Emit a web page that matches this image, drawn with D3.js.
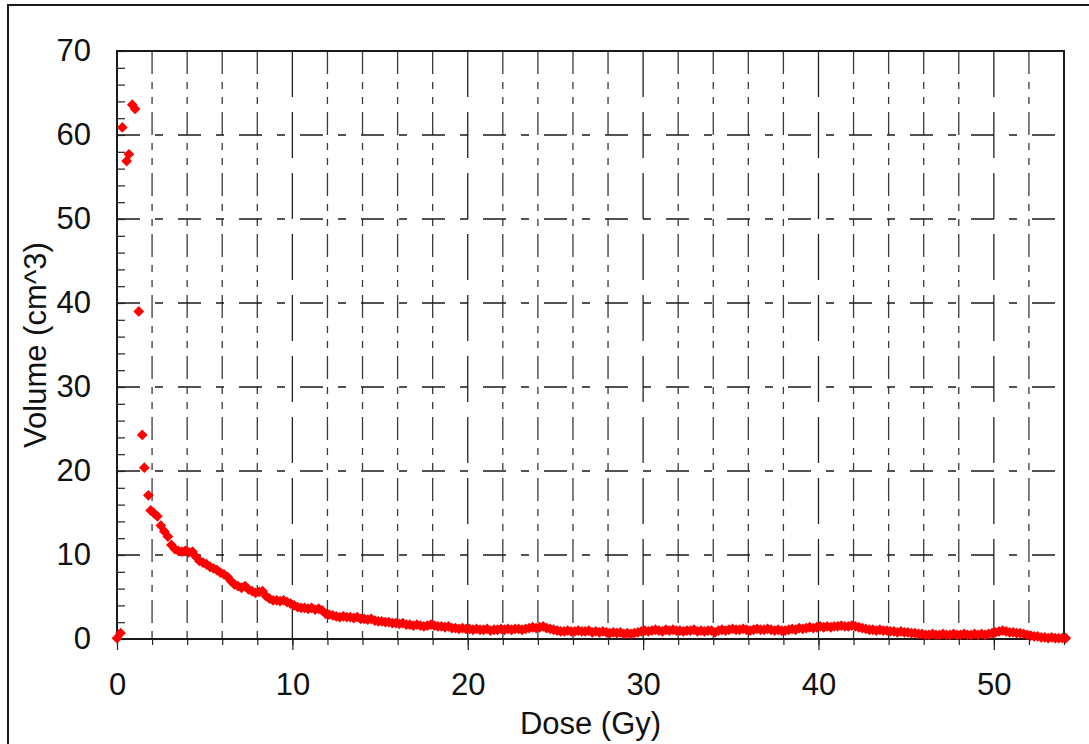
<!DOCTYPE html>
<html>
<head>
<meta charset="utf-8">
<script src="https://cdnjs.cloudflare.com/ajax/libs/d3/7.8.5/d3.min.js"></script>
<style>
  body { margin: 0; background: #fff; }
  svg text { font-family: "Liberation Sans", Arial, sans-serif; fill: #111; }
</style>
</head>
<body>
<div id="chart"></div>
<script>
/* DVH scatter: volume vs dose */
var width = 1089;
var height = 744;

// first few bins, read one by one
var headDose = [0.0, 0.2, 0.3, 0.55, 0.68, 0.87, 1.03, 1.24, 1.44, 1.56, 1.79, 1.92];
var headVolume = [0.1, 0.7, 60.9, 56.9, 57.7, 63.6, 63.1, 39.0, 24.3, 20.4, 17.1, 15.3];

// remaining bins, 0.2 Gy wide starting at 2.1 Gy
var tailStart = 2.1;
var binWidth = 0.2;
var tailVolume = [
  15.0, 14.6, 13.5, 12.8, 12.2, 11.2, 10.7, 10.5, 10.4, 10.5,
  10.3, 10.4, 9.8, 9.3, 9.1, 8.9, 8.6, 8.4, 8.2, 7.9,
  7.7, 7.4, 6.9, 6.5, 6.3, 6.1, 6.3, 5.9, 5.7, 5.5,
  5.6, 5.7, 5.1, 4.8, 4.6, 4.6, 4.5, 4.6, 4.4, 4.2,
  4.0, 3.8, 3.7, 3.7, 3.6, 3.7, 3.5, 3.6, 3.4, 3.0,
  2.9, 2.8, 2.7, 2.6, 2.7, 2.6, 2.6, 2.5, 2.6, 2.4,
  2.4, 2.3, 2.4, 2.2, 2.1, 2.1, 2.0, 2.0, 1.9, 1.9,
  1.8, 1.9, 1.7, 1.7, 1.6, 1.7, 1.6, 1.5, 1.6, 1.7,
  1.6, 1.5, 1.5, 1.4, 1.5, 1.3, 1.3, 1.2, 1.3, 1.2,
  1.2, 1.1, 1.2, 1.1, 1.1, 1.2, 1.0, 1.1, 1.1, 1.2,
  1.1, 1.2, 1.1, 1.2, 1.2, 1.1, 1.2, 1.3, 1.4, 1.3,
  1.4, 1.5, 1.3, 1.2, 1.1, 1.0, 0.9, 0.9, 1.0, 0.9,
  0.9, 1.0, 0.9, 0.9, 1.0, 0.8, 0.9, 0.8, 0.9, 0.8,
  0.7, 0.8, 0.7, 0.8, 0.6, 0.7, 0.6, 0.7, 0.8, 0.9,
  1.0, 0.9, 1.0, 1.1, 1.0, 0.9, 1.1, 1.0, 1.1, 1.0,
  1.0, 0.9, 1.0, 1.0, 1.1, 0.9, 1.0, 0.9, 1.0, 1.0,
  0.8, 1.0, 1.1, 1.0, 1.1, 1.2, 1.1, 1.1, 1.2, 1.1,
  1.0, 1.1, 1.2, 1.1, 1.1, 1.2, 1.1, 1.0, 1.1, 1.0,
  1.0, 1.1, 1.2, 1.1, 1.3, 1.2, 1.3, 1.4, 1.3, 1.4,
  1.5, 1.4, 1.5, 1.4, 1.5, 1.5, 1.6, 1.5, 1.5, 1.6,
  1.5, 1.4, 1.3, 1.2, 1.1, 1.1, 1.0, 1.1, 1.0, 1.0,
  0.9, 0.9, 0.8, 0.9, 0.8, 0.8, 0.7, 0.7, 0.6, 0.6,
  0.5, 0.5, 0.6, 0.5, 0.5, 0.6, 0.5, 0.5, 0.6, 0.5,
  0.5, 0.6, 0.5, 0.5, 0.6, 0.5, 0.6, 0.5, 0.6, 0.7,
  0.8, 0.9, 1.0, 0.9, 0.8, 0.8, 0.7, 0.7, 0.6, 0.5,
  0.4, 0.3, 0.3, 0.2, 0.2, 0.1, 0.2, 0.1, 0.1, 0.1,
  0.1
];

var xTicks = [0, 10, 20, 30, 40, 50];
var yTicks = [0, 10, 20, 30, 40, 50, 60, 70];

var points = headDose.map(function (d, i) { return { dose: d, vol: headVolume[i] }; });
tailVolume.forEach(function (v, i) {
  points.push({ dose: tailStart + i * binWidth, vol: v });
});

var margin = { left: 117, top: 51, right: 1064, bottom: 639 };

var x = d3.scaleLinear().domain([0, 54]).range([margin.left, margin.right]);
var y = d3.scaleLinear().domain([0, 70]).range([margin.bottom, margin.top]);

var svg = d3.select("#chart").append("svg")
    .attr("width", width)
    .attr("height", height);

// outer frame (runs off the right and bottom edges)
svg.append("rect")
    .attr("x", 8).attr("y", 5)
    .attr("width", 1200).attr("height", 900)
    .attr("fill", "none")
    .attr("stroke", "#1a1a1a")
    .attr("stroke-width", 2);

var grid = svg.append("g").attr("class", "grid");

// vertical grid every 2 Gy, heavier dashes every 10
var vLines = d3.range(2, 54, 2);
grid.selectAll("line.v")
    .data(vLines)
    .enter().append("line")
    .attr("class", "v")
    .attr("x1", function (d) { return x(d); })
    .attr("x2", function (d) { return x(d); })
    .attr("y1", y(70))
    .attr("y2", y(0))
    .attr("stroke", function (d) { return d % 10 === 0 ? "#222" : "#3a3a3a"; })
    .attr("stroke-width", 1.3)
    .attr("stroke-dasharray", function (d) { return d % 10 === 0 ? "46,15" : "23,8,7,8,7,8"; });

grid.selectAll("line.h")
    .data(yTicks.filter(function (d) { return d > 0 && d < 70; }))
    .enter().append("line")
    .attr("class", "h")
    .attr("x1", x(0))
    .attr("x2", x(54))
    .attr("y1", function (d) { return y(d); })
    .attr("y2", function (d) { return y(d); })
    .attr("stroke", "#1a1a1a")
    .attr("stroke-width", 1.3)
    .attr("stroke-dasharray", "23,15,8,15");

// axes
var xAxis = d3.axisBottom(x)
    .tickValues(d3.range(0, 55, 2))
    .tickSize(6)
    .tickFormat("");
var xAxisMajor = d3.axisBottom(x)
    .tickValues(xTicks)
    .tickSize(11)
    .tickPadding(23)
    .tickFormat(d3.format("d"));
var yAxis = d3.axisRight(y)
    .tickValues(d3.range(0, 71, 2))
    .tickSize(8)
    .tickFormat("");
var yAxisLabels = d3.axisLeft(y)
    .tickValues(yTicks)
    .tickSize(0)
    .tickPadding(26)
    .tickFormat(d3.format("d"));

function styleAxis(g) {
  g.select(".domain").remove();
  g.selectAll(".tick line").attr("stroke", "#222").attr("stroke-width", 1.2);
  g.selectAll(".tick text")
      .attr("fill", "#111")
      .style("font-size", "31px")
      .style("font-family", "'Liberation Sans', Arial, sans-serif");
}

svg.append("g").attr("transform", "translate(0," + y(0) + ")").call(xAxis).call(styleAxis);
svg.append("g").attr("transform", "translate(0," + y(0) + ")").call(xAxisMajor).call(styleAxis);
svg.append("g").attr("transform", "translate(" + x(0) + ",0)").call(yAxis).call(styleAxis);
svg.append("g").attr("transform", "translate(" + x(0) + ",0)").call(yAxisLabels).call(styleAxis);

// plot box
svg.append("rect")
    .attr("x", x(0)).attr("y", y(70))
    .attr("width", x(54) - x(0)).attr("height", y(0) - y(70))
    .attr("fill", "none")
    .attr("stroke", "#1a1a1a")
    .attr("stroke-width", 2);

// diamond markers
var diamond = d3.symbol().type(d3.symbolDiamond2).size(74);
svg.append("g").selectAll("path")
    .data(points)
    .enter().append("path")
    .attr("d", diamond)
    .attr("transform", function (d) { return "translate(" + x(d.dose) + "," + y(d.vol) + ")"; })
    .attr("fill", "#ff0000");

// axis titles
svg.append("text")
    .attr("x", (x(0) + x(54)) / 2)
    .attr("y", 734)
    .attr("text-anchor", "middle")
    .style("font-size", "31px")
    .text("Dose (Gy)");

svg.append("text")
    .attr("transform", "translate(46," + ((y(0) + y(70)) / 2) + ") rotate(-90)")
    .attr("text-anchor", "middle")
    .style("font-size", "31px")
    .text("Volume (cm^3)");
</script>
</body>
</html>
